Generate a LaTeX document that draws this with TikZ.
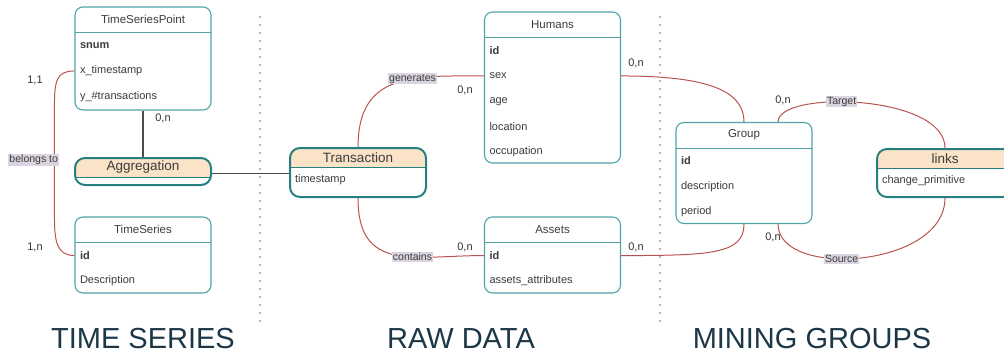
\documentclass[tikz,border=0pt]{standalone}
\usepackage{fontspec}
\setmainfont{Liberation Sans}
\usepackage{xcolor}
\usetikzlibrary{positioning, calc}
\definecolor{entteal}{RGB}{80,164,168}
\definecolor{weakteal}{RGB}{38,128,128}
\definecolor{relred}{RGB}{184,84,80}
\definecolor{headfill}{RGB}{250,227,199}
\definecolor{lblgray}{RGB}{218,212,224}
\definecolor{txtgray}{RGB}{60,60,60}
\definecolor{titleblue}{RGB}{28,56,72}

\begin{document}
\begin{tikzpicture}[x=1pt, y=-1pt,
    entity/.style={rectangle, draw=entteal, line width=1.1pt, rounded corners=8pt,
                   minimum width=136pt, fill=white},
    ehead/.style={minimum width=136pt, minimum height=26pt, inner sep=0pt,
                  font=\fontsize{11.5}{13}\selectfont, text=txtgray},
    attr/.style={minimum height=25pt, text width=126pt, inner xsep=5pt, inner ysep=0pt,
                 align=left, font=\fontsize{11}{13}\selectfont, text=txtgray},
    hline/.style={draw=entteal, line width=1.1pt},
    weak/.style={rectangle, draw=weakteal, line width=2pt, rounded corners=10pt,
                 minimum width=136pt, fill=white,
                 path picture={\fill[headfill, sharp corners] (path picture bounding box.north west)
                   rectangle ([yshift=-20pt]path picture bounding box.north east);}},
    whead/.style={minimum width=136pt, minimum height=20pt, inner sep=0pt,
                  font=\fontsize{13.5}{15}\selectfont, text=txtgray},
    wline/.style={draw=weakteal, line width=1.6pt},
    rel/.style={draw=relred, line width=1pt},
    link/.style={draw=black!70, line width=1.2pt},
    lbl/.style={fill=lblgray, inner sep=1pt, font=\fontsize{10.5}{12}\selectfont, text=txtgray},
    card/.style={font=\fontsize{11}{13}\selectfont, text=black!80},
    sep/.style={draw=relred, line width=1.6pt, line cap=round, dash pattern=on 0pt off 8pt},
    section/.style={inner sep=0pt, font=\fontsize{29}{32}\selectfont, text=titleblue},
]
    \useasboundingbox (0,0) rectangle (1004,354);

    % separators between the three parts
    \draw[sep] (260,17) -- (260,325);
    \draw[sep] (660,17) -- (660,325);

    % Left: time series
    \node[entity, minimum height=103pt] (tsp) at (143,58.5) {};
    \node[ehead, anchor=north] (tsp-h) at (tsp.north) {TimeSeriesPoint};
    \draw[hline] (tsp-h.south west) -- (tsp-h.south east);
    \node[attr, anchor=north west] (tsp-snum) at (tsp-h.south west) {\textbf{snum}};
    \node[attr, below=0pt of tsp-snum] (tsp-x) {x\_timestamp};
    \node[attr, below=0pt of tsp-x] (tsp-y) {y\_\#transactions};

    \node[weak, minimum height=27pt] (agg) at (143,171.5) {};
    \node[whead, anchor=north] (agg-h) at (agg.north) {Aggregation};
    \draw[wline] (agg-h.south west) -- (agg-h.south east);

    \node[entity, minimum height=76pt] (ts) at (143,255) {};
    \node[ehead, anchor=north] (ts-h) at (ts.north) {TimeSeries};
    \draw[hline] (ts-h.south west) -- (ts-h.south east);
    \node[attr, anchor=north west] (ts-id) at (ts-h.south west) {\textbf{id}};
    \node[attr, below=0pt of ts-id] (ts-desc) {Description};

    % Middle: raw data
    \node[weak, minimum height=49pt] (tr) at (358,172.5) {};
    \node[whead, anchor=north] (tr-h) at (tr.north) {Transaction};
    \draw[wline] (tr-h.south west) -- (tr-h.south east);
    \node[attr, anchor=north west] (tr-ts) at (tr-h.south west) {timestamp};

    \node[entity, minimum height=151pt] (hum) at (552.5,87.5) {};
    \node[ehead, anchor=north] (hum-h) at (hum.north) {Humans};
    \draw[hline] (hum-h.south west) -- (hum-h.south east);
    \node[attr, anchor=north west] (hum-id) at (hum-h.south west) {\textbf{id}};
    \node[attr, below=0pt of hum-id] (hum-sex) {sex};
    \node[attr, below=0pt of hum-sex] (hum-age) {age};
    \node[attr, below=0pt of hum-age] (hum-loc) {location};
    \node[attr, below=0pt of hum-loc] (hum-occ) {occupation};

    \node[entity, minimum height=76pt] (as) at (552.5,255) {};
    \node[ehead, anchor=north] (as-h) at (as.north) {Assets};
    \draw[hline] (as-h.south west) -- (as-h.south east);
    \node[attr, anchor=north west] (as-id) at (as-h.south west) {\textbf{id}};
    \node[attr, below=0pt of as-id] (as-attr) {assets\_attributes};

    % Right: mining groups
    \node[entity, minimum height=101pt] (grp) at (744,173) {};
    \node[ehead, anchor=north] (grp-h) at (grp.north) {Group};
    \draw[hline] (grp-h.south west) -- (grp-h.south east);
    \node[attr, anchor=north west] (grp-id) at (grp-h.south west) {\textbf{id}};
    \node[attr, below=0pt of grp-id] (grp-desc) {description};
    \node[attr, below=0pt of grp-desc] (grp-per) {period};

    \node[weak, minimum height=48pt] (links) at (945,173) {};
    \node[whead, anchor=north] (links-h) at (links.north) {links};
    \draw[wline] (links-h.south west) -- (links-h.south east);
    \node[attr, anchor=north west] (links-cp) at (links-h.south west) {change\_primitive};

    % Connectors
    \draw[link] (tsp.south) -- (agg.north);
    \draw[link] ([yshift=-2pt]agg.east) -- ([yshift=-2pt]agg.east -| tr.west);
    \draw[rel] (tsp.west |- tsp-x) .. controls +(-18,0) and +(0,-25) .. ++(-20,35)
        -- node[lbl, pos=0.49, anchor=east, xshift=5pt] {belongs to} ++(0,110)
        .. controls +(0,25) and +(-18,0) .. (ts.west |- ts-id);

    \draw[rel] (tr.north) .. controls +(0,-75) and +(-70,0) .. node[lbl, pos=0.62] {generates} (hum.west |- hum-sex);
    \draw[rel] (tr.south) .. controls +(0,75) and +(-70,0) .. node[lbl, pos=0.62] {contains} (as.west |- as-id);

    \draw[rel] (hum.east |- hum-sex) .. controls +(90,0) and +(0,-30) .. (grp.north);
    \draw[rel] (as.east |- as-id) .. controls +(90,0) and +(0,30) .. (grp.south);

    \draw[rel] ([xshift=34pt]grp.north) .. controls +(0,-32) and +(0,-54) .. node[lbl, pos=0.42] {Target} (links.north);
    \draw[rel] ([xshift=34pt]grp.south) .. controls +(0,55) and +(0,70) .. node[lbl, pos=0.42] {Source} (links.south);

    % cardinalities
    \node[card] (c-agg) at (163,118) {0,n};
    \node[card] (c-bel1) at (35,80) {1,1};
    \node[card] (c-bel2) at (35,247) {1,n};
    \node[card] (c-gen) at (465,90) {0,n};
    \node[card] (c-con) at (465,247) {0,n};
    \node[card] (c-hum) at (636,63) {0,n};
    \node[card] (c-as) at (636,247) {0,n};
    \node[card] (c-tgt) at (783,100) {0,n};
    \node[card] (c-src) at (773,237) {0,n};

    % section titles
    \node[section] (t-ts) at (143,339) {TIME SERIES};
    \node[section] (t-raw) at (461,339) {RAW DATA};
    \node[section] (t-mine) at (812,339) {MINING GROUPS};
\end{tikzpicture}
\end{document}
